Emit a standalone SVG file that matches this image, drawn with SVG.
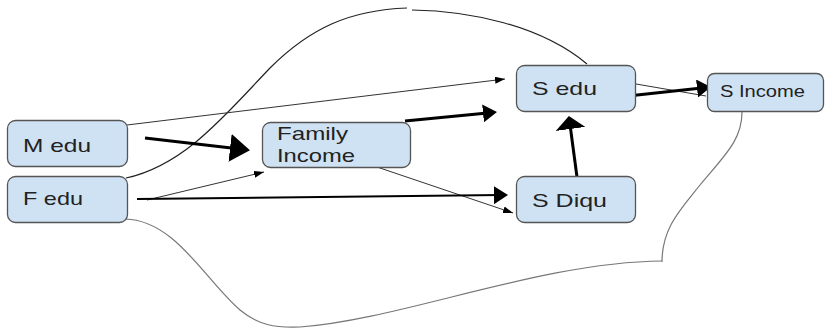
<svg xmlns="http://www.w3.org/2000/svg" width="825" height="331" viewBox="0 0 825 331">
<style>
.node rect{fill:#cfe2f3;stroke:#555;stroke-width:1.3}
.node text{font-family:"Liberation Sans",Arial,sans-serif;font-size:19px;fill:#222}
.thin{fill:none;stroke:#333;stroke-width:1}
.curve{fill:none;stroke:#222;stroke-width:1.2}
.gcurve{fill:none;stroke:#777;stroke-width:1.2}
.thick{fill:none;stroke:#000;stroke-width:3}
.mid{fill:none;stroke:#000;stroke-width:2}
</style>
<defs>
<marker id="big" viewBox="0 0 20 28" refX="10" refY="14" markerWidth="20" markerHeight="28" markerUnits="userSpaceOnUse" orient="auto"><path d="M0,0 L20,14 L0,28 z" fill="#000"/></marker>
<marker id="med" viewBox="0 0 14 18" refX="7" refY="9" markerWidth="14" markerHeight="18" markerUnits="userSpaceOnUse" orient="auto"><path d="M0,0 L14,9 L0,18 z" fill="#000"/></marker>
<marker id="wide" viewBox="0 0 13 30" refX="6" refY="15" markerWidth="13" markerHeight="30" markerUnits="userSpaceOnUse" orient="auto"><path d="M0,0 L13,15 L0,30 z" fill="#000"/></marker>
<marker id="small" viewBox="0 0 10 7" refX="10" refY="3.5" markerWidth="10" markerHeight="7" markerUnits="userSpaceOnUse" orient="auto"><path d="M0,0 L10,3.5 L0,7 z" fill="#000"/></marker>
</defs>
<rect width="825" height="331" fill="#fff"/>
<g id="connectors">
<path class="curve" d="M126,178 C185,165 225,115 270,68 C310,28 350,10 407,8"/>
<path class="curve" d="M412,10 C470,11 540,25 587,64"/>
<path class="gcurve" d="M125,219 C175,220 205,280 240,310 C258,325 275,328 300,327 C400,320 540,262 662,261"/>
<path class="gcurve" d="M662,262 C662,228 680,210 700,185 C725,155 742,140 742,112"/>
<line class="thin" x1="127" y1="125" x2="505" y2="79" marker-end="url(#small)"/>
<line class="thin" x1="147" y1="200" x2="264" y2="172" marker-end="url(#small)"/>
<line class="thin" x1="377" y1="167" x2="513" y2="213" stroke-width="1.4" marker-end="url(#small)"/>
<line class="thin" x1="636" y1="84" x2="706" y2="96"/>
<line class="thick" x1="145" y1="138" x2="240" y2="149" marker-end="url(#big)"/>
<line class="thick" x1="405" y1="121" x2="490" y2="112.7" stroke-width="2.6" marker-end="url(#med)"/>
<line class="mid" x1="137" y1="199" x2="501" y2="195.1" marker-end="url(#med)"/>
<line class="thick" x1="577" y1="177" x2="569.8" y2="123" marker-end="url(#wide)"/>
<line class="thick" x1="628" y1="96" x2="704" y2="87.8" marker-end="url(#med)"/>
</g>
<g id="m-edu" class="node"><rect x="7.5" y="120.5" width="120" height="46" rx="8"/><text x="23" y="152" textLength="68" lengthAdjust="spacingAndGlyphs">M edu</text></g>
<g id="f-edu" class="node"><rect x="7.5" y="176.5" width="120" height="46" rx="8"/><text x="23" y="205" textLength="60" lengthAdjust="spacingAndGlyphs">F edu</text></g>
<g id="family-income" class="node"><rect x="262.5" y="122.5" width="148" height="45" rx="8"/><text x="277" y="140" textLength="71" lengthAdjust="spacingAndGlyphs">Family</text><text x="277" y="162" textLength="78" lengthAdjust="spacingAndGlyphs">Income</text></g>
<g id="s-edu" class="node"><rect x="516.5" y="65.5" width="119" height="46" rx="8"/><text x="532" y="95" textLength="65" lengthAdjust="spacingAndGlyphs">S edu</text></g>
<g id="s-diqu" class="node"><rect x="516.5" y="176.5" width="119" height="46" rx="8"/><text x="532" y="207" textLength="75" lengthAdjust="spacingAndGlyphs">S Diqu</text></g>
<g id="s-income" class="node"><rect x="707.5" y="73.5" width="116" height="38" rx="7"/><text x="720" y="97" style="font-size:16px" textLength="85" lengthAdjust="spacingAndGlyphs">S Income</text></g>
</svg>
